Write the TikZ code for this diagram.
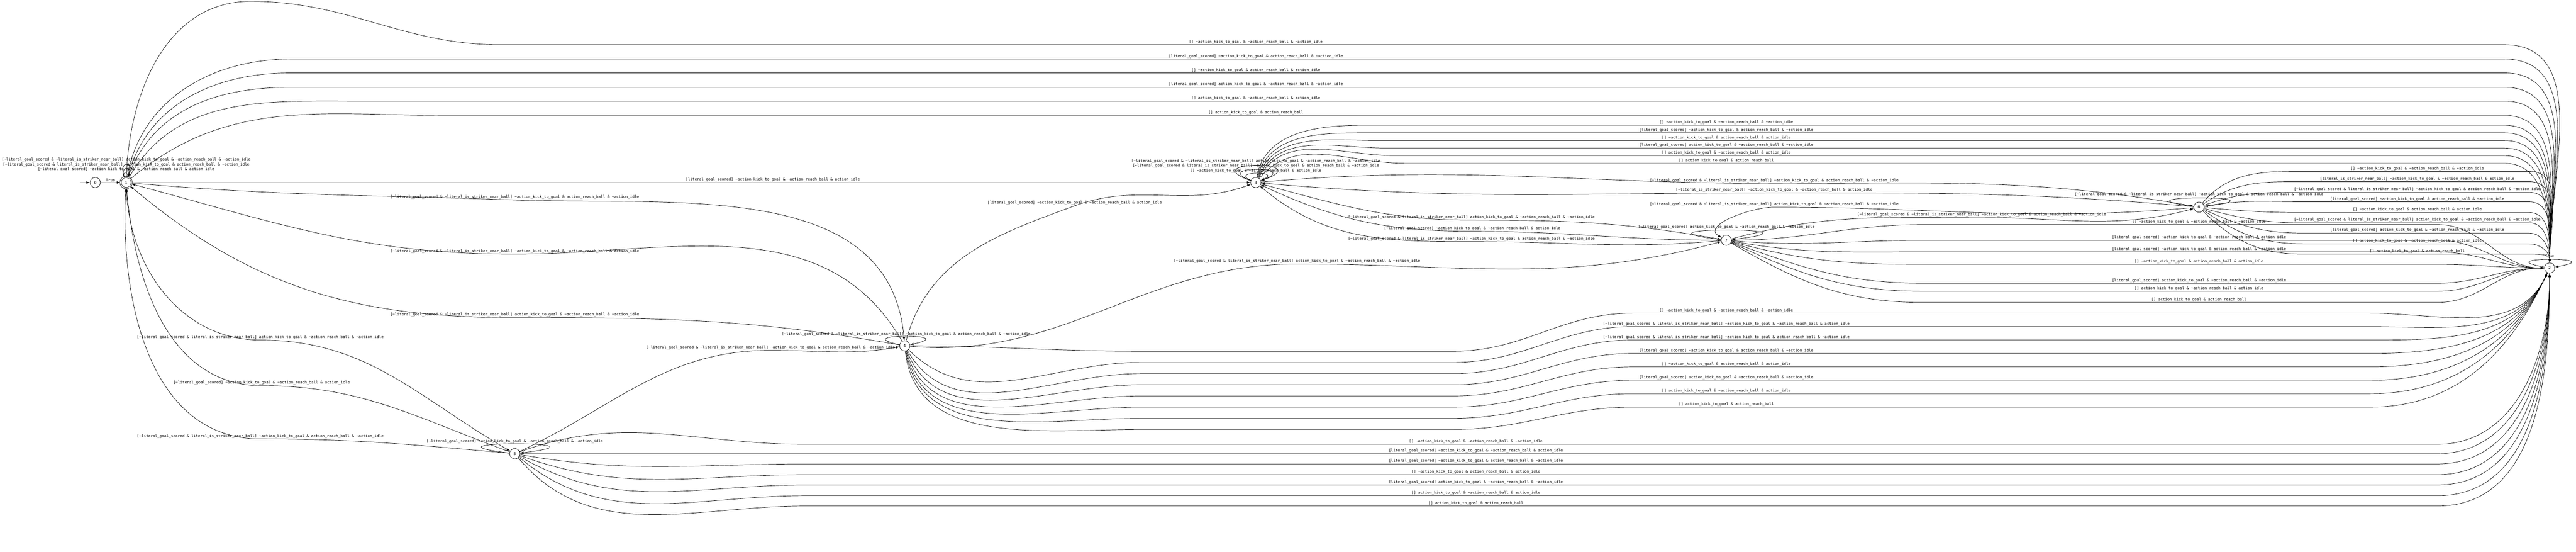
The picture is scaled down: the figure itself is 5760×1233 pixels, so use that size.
\documentclass[tikz,border=0pt]{standalone}
\usepackage{fontspec}
\setmainfont{DejaVu Sans Mono}
\usetikzlibrary{arrows.meta,positioning}
% atoms of the labels
\newcommand{\nott}{\textasciitilde}
\newcommand{\lgoal}{literal\_goal\_scored}
\newcommand{\lnear}{literal\_is\_striker\_near\_ball}
\newcommand{\akick}{action\_kick\_to\_goal}
\newcommand{\areach}{action\_reach\_ball}
\newcommand{\aidle}{action\_idle}
% outputs
\newcommand{\oN}{\nott\akick{} \& \nott\areach{} \& \nott\aidle}
\newcommand{\oK}{\akick{} \& \nott\areach{} \& \nott\aidle}
\newcommand{\oR}{\nott\akick{} \& \areach{} \& \nott\aidle}
\newcommand{\oI}{\nott\akick{} \& \nott\areach{} \& \aidle}
\newcommand{\oKR}{\akick{} \& \areach}
\newcommand{\oKI}{\akick{} \& \nott\areach{} \& \aidle}
\newcommand{\oRI}{\nott\akick{} \& \areach{} \& \aidle}
% guards
\newcommand{\gT}{[]}
\newcommand{\gG}{[\lgoal]}
\newcommand{\gnG}{[\nott\lgoal]}
\newcommand{\gN}{[\lnear]}
\newcommand{\gnN}{[\nott\lnear]}
\newcommand{\gnGN}{[\nott\lgoal{} \& \lnear]}
\newcommand{\gnGnN}{[\nott\lgoal{} \& \nott\lnear]}
% edge along a horizontal track: from, out, x1, y, label x, x2, in, to, label
\newcommand{\trk}[9]{\draw[edge] (#1) to[out=#2,in=180] (#3,-#4) -- (#5,-#4) node[lbl,above]{#9} -- (#6,-#4) to[out=0,in=#7] (#8);}
% edges from 4 to 2: out, y near 4, y of label, label
\newcommand{\trkb}[4]{\draw[edge] (n4) to[out=#1,in=180] (2550,-#2) -- (3250,-#2) to[out=0,in=180] (3650,-#3) -- (3860,-#3) node[lbl,above]{#4} -- (5300,-#3) to[out=0,in=-115] (n2);}
\tikzset{
  state/.style={circle,draw=black,line width=0.4pt,minimum size=11.5pt,inner sep=0pt,font=\fontsize{4.5}{5}\selectfont},
  accept/.style={state,double,double distance=1pt,minimum size=12.5pt},
  edge/.style={draw,line width=0.4pt,->},
  lbl/.style={inner sep=0.75pt,font=\fontsize{4.2}{5}\selectfont},
  >={Latex[length=4pt,width=2.75pt]},
}
\begin{document}
\begin{tikzpicture}[x=0.5pt,y=0.5pt]
\useasboundingbox (0,0) rectangle (5760,-1233);
% states
\node[state] (n0) at (213,-408) {0};
\node[accept] (n1) at (282,-408) {1};
\node[state] (n5) at (1151,-1014) {5};
\node[state] (n4) at (2023,-773) {4};
\node[state] (n3) at (2808,-408) {3};
\node[state] (n7) at (3860,-537) {7};
\node[state] (n6) at (4917,-463) {6};
\node[state] (n2) at (5701,-599) {2};
\coordinate[left=11pt of n0] (start);

\draw[edge] (start) -- (n0);
\draw[edge] (n0) -- node[lbl,above]{True} (n1);

% state 1
\draw[edge] (n1) .. controls +(-10,26) and +(10,26) .. (n1) node[lbl] at (282,-379) {\gnG\ \oI};
\draw[edge] (n1) .. controls +(-14,38) and +(14,38) .. (n1) node[lbl] at (282,-368) {\gnGN\ \oR};
\draw[edge] (n1) .. controls +(-18,50) and +(18,50) .. (n1) node[lbl] at (282,-357) {\gnGnN\ \oK};
\draw[edge] (n1) to[out=88,in=180] (560,-3) to[out=0,in=180] (1120,-100) -- (2808,-100) node[lbl,above]{\gT\ \oN} -- (5600,-100) to[out=0,in=90] (n2);
\trk{n1}{80}{650}{132}{2808}{5600}{90}{n2}{\gG\ \oR}
\trk{n1}{75}{650}{163}{2808}{5600}{90}{n2}{\gT\ \oRI}
\trk{n1}{70}{650}{195}{2808}{5600}{90}{n2}{\gG\ \oK}
\trk{n1}{60}{800}{226}{2808}{5600}{90}{n2}{\gT\ \oKI}
\trk{n1}{40}{1000}{258}{2808}{5600}{90}{n2}{\gT\ \oKR}
\draw[edge] (n1) -- (1728,-408) node[lbl,above]{\gG\ \oI} -- (n3);
\draw[edge] (n1) to[out=-5,in=178] (1151,-447) node[lbl,above]{\gnGnN\ \oR} to[out=-2,in=95] (n4);
\draw[edge] (n1) to[out=-88,in=180] (582,-760) node[lbl,above]{\gnGN\ \oK} to[out=0,in=150] (n5);

% state 5
\draw[edge] (n5) .. controls +(-240,29) and +(240,29) .. (n5) node[lbl] at (1151,-987) {\gnG\ \oK};
\draw[edge] (n5) to[out=160,in=0] (585,-862) node[lbl,above]{\gnG\ \oI} to[out=180,in=-85] (n1);
\draw[edge] (n5) to[out=175,in=0] (582,-981) node[lbl,above]{\gnGN\ \oR} to[out=180,in=-93] (n1);
\draw[edge] (n5) to[out=25,in=180] (1723,-783) node[lbl,above]{\gnGnN\ \oR} to[out=0,in=190] (n4);
\trk{n5}{20}{1800}{993}{3300}{5450}{-90}{n2}{\gT\ \oN}
\trk{n5}{0}{1800}{1014}{3300}{5450}{-90}{n2}{\gG\ \oI}
\trk{n5}{-10}{1800}{1037}{3300}{5450}{-90}{n2}{\gG\ \oR}
\trk{n5}{-20}{1800}{1061}{3300}{5450}{-90}{n2}{\gT\ \oRI}
\trk{n5}{-30}{1800}{1084}{3300}{5450}{-90}{n2}{\gG\ \oK}
\trk{n5}{-40}{1800}{1108}{3300}{5450}{-90}{n2}{\gT\ \oKI}
\trk{n5}{-50}{1800}{1131}{3300}{5450}{-90}{n2}{\gT\ \oKR}

% state 4
\draw[edge] (n4) .. controls +(-130,28) and +(130,28) .. (n4) node[lbl] at (2026,-747) {\gnGnN\ \oR};
\draw[edge] (n4) to[out=120,in=0] (1151,-568) node[lbl,above]{\gnGnN\ \oI} to[out=180,in=-15] (n1);
\draw[edge] (n4) to[out=170,in=0] (1151,-710) node[lbl,above]{\gnGnN\ \oK} to[out=180,in=-40] (n1);
\draw[edge] (n4) to[out=75,in=200] (2403,-460) node[lbl,above]{\gG\ \oI} to[out=20,in=200] (n3);
\draw[edge] (n4) to[out=-5,in=180] (2900,-590) node[lbl,above]{\gnGN\ \oK} to[out=0,in=195] (n7);
\trkb{0}{785}{700}{\gT\ \oN}
\trkb{-45}{810}{730}{\gnGN\ \oI}
\trkb{-60}{835}{760}{\gnGN\ \oR}
\trkb{-68}{860}{790}{\gG\ \oR}
\trkb{-74}{885}{820}{\gT\ \oRI}
\trkb{-78}{910}{850}{\gG\ \oK}
\trkb{-81}{935}{880}{\gT\ \oKI}
\trkb{-84}{960}{910}{\gT\ \oKR}

% state 3
\draw[edge] (n3) .. controls +(-60,26) and +(60,26) .. (n3) node[lbl] at (2808,-382) {\gT\ \oI};
\draw[edge] (n3) .. controls +(-100,38) and +(100,38) .. (n3) node[lbl] at (2808,-371) {\gnGN\ \oR};
\draw[edge] (n3) .. controls +(-140,50) and +(140,50) .. (n3) node[lbl] at (2808,-360) {\gnGnN\ \oK};
\trk{n3}{80}{3050}{280}{3860}{5600}{90}{n2}{\gT\ \oN}
\trk{n3}{75}{3050}{297}{3860}{5600}{90}{n2}{\gG\ \oR}
\trk{n3}{70}{3080}{314}{3860}{5600}{90}{n2}{\gT\ \oRI}
\trk{n3}{65}{3100}{331}{3860}{5600}{90}{n2}{\gG\ \oK}
\trk{n3}{60}{3120}{348}{3860}{5600}{90}{n2}{\gT\ \oKI}
\trk{n3}{50}{3140}{365}{3860}{5600}{90}{n2}{\gT\ \oKR}
\draw[edge] (n3) to[out=5,in=180] (3967,-410) node[lbl,above]{\gnGnN\ \oR} to[out=0,in=170] (n6);
\draw[edge] (n3) to[out=-15,in=180] (3290,-492) node[lbl,above]{\gnGN\ \oK} to[out=0,in=170] (n7);

% state 7
\draw[edge] (n7) .. controls +(-250,30) and +(250,30) .. (n7) node[lbl,above] at (3860,-514) {\gnG\ \oK};
\draw[edge] (n7) to[out=180,in=0] (3292,-517) node[lbl,above]{\gnG\ \oI} to[out=180,in=-25] (n3);
\draw[edge] (n7) to[out=185,in=0] (3290,-540) node[lbl,above]{\gnGN\ \oR} to[out=180,in=-40] (n3);
\draw[edge] (n7) to[out=15,in=180] (4431,-486) node[lbl,above]{\gnGnN\ \oR} to[out=0,in=195] (n6);
\trk{n7}{0}{4300}{502}{4917}{5450}{180}{n2}{\gT\ \oN}
\trk{n7}{-5}{4300}{537}{4917}{5450}{180}{n2}{\gG\ \oI}
\trk{n7}{-10}{4300}{563}{4917}{5450}{180}{n2}{\gG\ \oR}
\trk{n7}{-15}{4300}{591}{4917}{5450}{180}{n2}{\gT\ \oRI}
\trk{n7}{-20}{4300}{633}{4917}{5450}{180}{n2}{\gG\ \oK}
\trk{n7}{-25}{4300}{651}{4917}{5450}{180}{n2}{\gT\ \oKI}
\trk{n7}{-30}{4300}{676}{4917}{5450}{180}{n2}{\gT\ \oKR}

% state 6
\draw[edge] (n6) .. controls +(-210,27) and +(210,27) .. (n6) node[lbl] at (4917,-435) {\gnGnN\ \oR};
\draw[edge] (n6) to[out=175,in=0] (3967,-431) node[lbl,above]{\gnN\ \oI} to[out=180,in=-5] (n3);
\draw[edge] (n6) to[out=185,in=0] (3967,-463) node[lbl,above]{\gnGnN\ \oK} to[out=180,in=150] (n7);
\trk{n6}{50}{5150}{383}{5405}{5655}{90}{n2}{\gT\ \oN}
\trk{n6}{35}{5150}{406}{5405}{5655}{90}{n2}{\gN\ \oI}
\trk{n6}{20}{5150}{430}{5405}{5655}{90}{n2}{\gnGN\ \oR}
\trk{n6}{10}{5150}{451}{5405}{5655}{90}{n2}{\gG\ \oR}
\trk{n6}{-5}{5150}{475}{5405}{5655}{90}{n2}{\gT\ \oRI}
\trk{n6}{-15}{5150}{498}{5405}{5655}{90}{n2}{\gnGN\ \oK}
\trk{n6}{-25}{5150}{521}{5405}{5655}{90}{n2}{\gG\ \oK}
\trk{n6}{-35}{5150}{545}{5405}{5655}{90}{n2}{\gT\ \oKI}
\trk{n6}{-45}{5150}{568}{5405}{5655}{90}{n2}{\gT\ \oKR}

% state 2
\draw[edge] (n2) .. controls (5560,-574) and (5840,-574) .. (n2) node[lbl] at (5701,-572) {True};
\end{tikzpicture}
\end{document}
